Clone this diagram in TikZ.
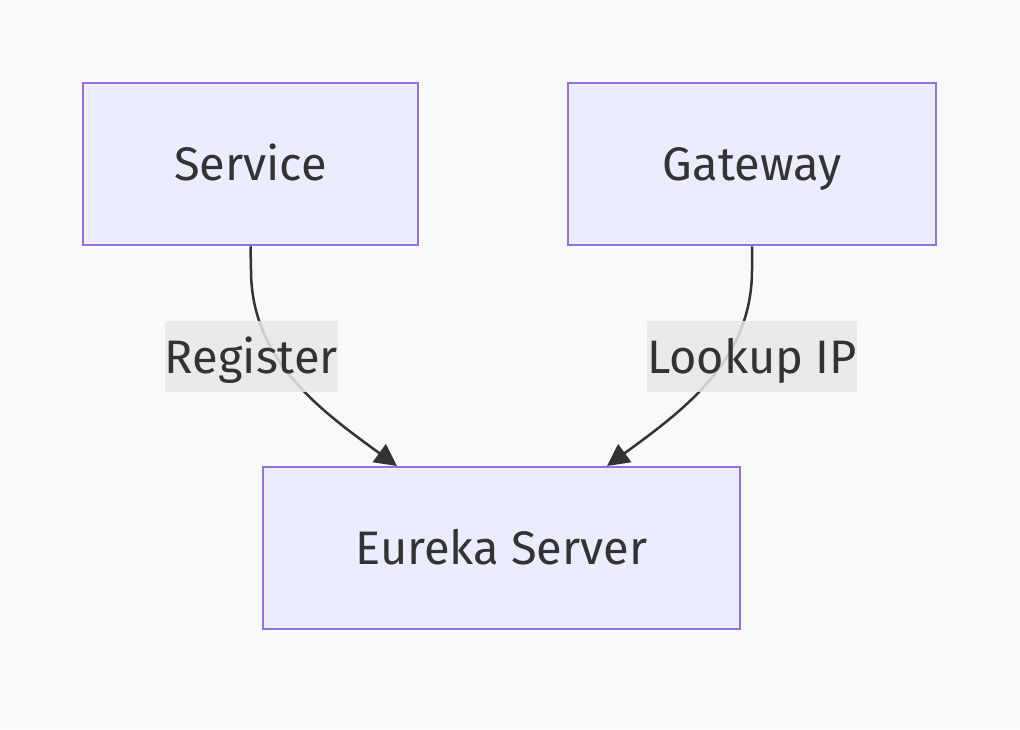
\documentclass[tikz,border=0pt]{standalone}
\usepackage{fontspec}
\setmainfont{Fira Sans}
\usetikzlibrary{arrows.meta}
\definecolor{bg}{HTML}{F8F9FA}
\definecolor{nodefill}{HTML}{ECECFF}
\definecolor{nodeline}{HTML}{9370DB}
\definecolor{txt}{HTML}{333333}
\definecolor{lblbg}{HTML}{E8E8E8}
\tikzset{
  box/.style={draw=nodeline, fill=nodefill, line width=2.5pt, inner sep=0pt, text=txt, font=\fontsize{47}{50}\selectfont, text height=33pt, text depth=0pt},
  lbl/.style={fill=lblbg, fill opacity=0.85, text opacity=1, text=txt, inner sep=0pt, font=\fontsize{47}{50}\selectfont, text height=33pt, text depth=0pt},
  edge/.style={draw=txt, line width=2.5pt, -{Triangle[length=22pt,width=22pt]}},
}
\begin{document}
\begin{tikzpicture}[x=1pt,y=-1pt]
\useasboundingbox[fill=bg] (0,0) rectangle (1020,729);
\node[box, minimum width=335pt, minimum height=162pt] (svc) at (250.5,164) {Service};
\node[box, minimum width=368pt, minimum height=162pt] (gw) at (752,164) {Gateway};
\node[box, minimum width=477pt, minimum height=162pt] (eur) at (501.5,548) {Eureka Server};
\coordinate (e1) at (397,466);
\coordinate (e2) at (607,466);
\coordinate (s1) at (251,270);
\coordinate (g1) at (752,270);
\draw[edge] (svc.south) -- (s1) .. controls (251,360) and (320,410) .. (e1);
\draw[edge] (gw.south) -- (g1) .. controls (752,360) and (684,410) .. (e2);
\node[lbl, minimum width=173pt, minimum height=71pt] (l1) at (251.5,356.5) {Register};
\node[lbl, minimum width=206pt, minimum height=71pt] (l2) at (752,356.5) {Lookup IP};
\end{tikzpicture}
\end{document}
